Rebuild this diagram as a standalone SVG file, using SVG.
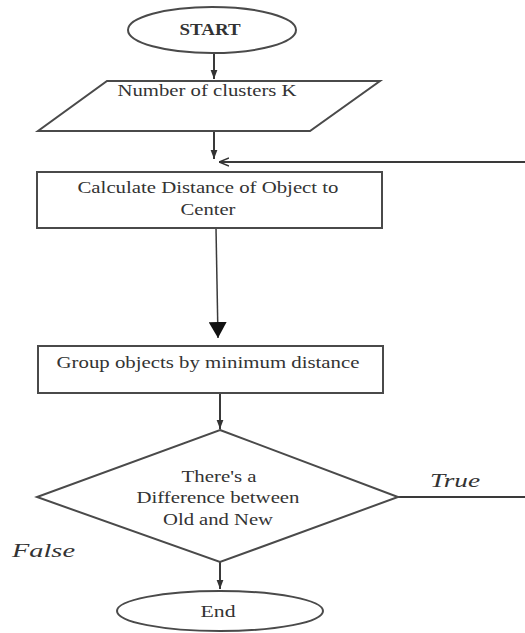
<svg xmlns="http://www.w3.org/2000/svg" width="525" height="633" viewBox="0 0 525 633">
<style>
.s{fill:#fff;stroke:#4a4a4a;stroke-width:2}
.c{fill:none;stroke:#3a3a3a;stroke-width:2}
.t{font-family:"Liberation Serif","Times New Roman",serif;font-size:16px;fill:#333;text-anchor:middle}
.i{font-family:"Liberation Serif","Times New Roman",serif;font-size:18px;font-style:italic;fill:#333}
</style>
<defs>
<marker id="ah" viewBox="0 0 12 9" refX="12" refY="4.5" markerWidth="9" markerHeight="12" orient="auto" markerUnits="userSpaceOnUse">
<path d="M0,0 L12,4.5 L0,9 z" fill="#333"/>
</marker>
<marker id="bh" viewBox="0 0 16 18" refX="16" refY="9" markerWidth="16" markerHeight="18" orient="auto" markerUnits="userSpaceOnUse">
<path d="M0,0 L16,9 L0,18 z" fill="#111"/>
</marker>
<marker id="oh" viewBox="0 0 10 10" refX="10" refY="5" markerWidth="10" markerHeight="10" orient="auto" markerUnits="userSpaceOnUse">
<path d="M0,1 L10,5 L0,9" fill="none" stroke="#333" stroke-width="1.5"/>
</marker>
</defs>
<g id="connectors">
<line class="c" x1="214" y1="53" x2="214" y2="79" marker-end="url(#ah)"/>
<line class="c" x1="214" y1="131" x2="214" y2="159" marker-end="url(#ah)"/>
<line class="c" x1="525" y1="162" x2="219" y2="162" marker-end="url(#oh)"/>
<line class="c" x1="216" y1="228" x2="218" y2="338" style="stroke-width:1.5" marker-end="url(#bh)"/>
<line class="c" x1="220" y1="393" x2="220" y2="429" marker-end="url(#ah)"/>
<line class="c" x1="398" y1="497" x2="525" y2="497"/>
<line class="c" x1="220" y1="562" x2="220" y2="589" marker-end="url(#ah)"/>
</g>
<g id="start">
<ellipse class="s" cx="212" cy="30" rx="84" ry="23"/>
<text class="t" x="210" y="35" style="font-weight:bold" textLength="61" lengthAdjust="spacingAndGlyphs">START</text>
</g>
<g id="input">
<polygon class="s" points="107,81 380,81 310,131 38,131"/>
<text class="t" x="207" y="96" textLength="179" lengthAdjust="spacingAndGlyphs">Number of clusters K</text>
</g>
<g id="calc">
<rect class="s" x="37" y="172" width="345" height="56"/>
<text class="t" x="208" y="193" textLength="261" lengthAdjust="spacingAndGlyphs">Calculate Distance of Object to</text>
<text class="t" x="208" y="215" textLength="55" lengthAdjust="spacingAndGlyphs">Center</text>
</g>
<g id="group">
<rect class="s" x="38" y="346" width="345" height="47"/>
<text class="t" x="208" y="368" textLength="303" lengthAdjust="spacingAndGlyphs">Group objects by minimum distance</text>
</g>
<g id="decision">
<polygon class="s" points="220,430 398,497 220,562 37,497"/>
<text class="t" x="219" y="482" textLength="75" lengthAdjust="spacingAndGlyphs">There's a</text>
<text class="t" x="218" y="503" textLength="163" lengthAdjust="spacingAndGlyphs">Difference between</text>
<text class="t" x="218" y="525" textLength="110" lengthAdjust="spacingAndGlyphs">Old and New</text>
</g>
<g id="labels">
<text class="i" x="430" y="487" textLength="50" lengthAdjust="spacingAndGlyphs">True</text>
<text class="i" x="12" y="557" textLength="63" lengthAdjust="spacingAndGlyphs">False</text>
</g>
<g id="end">
<ellipse class="s" cx="220" cy="611" rx="103" ry="20"/>
<text class="t" x="218" y="617" textLength="35" lengthAdjust="spacingAndGlyphs">End</text>
</g>
</svg>
